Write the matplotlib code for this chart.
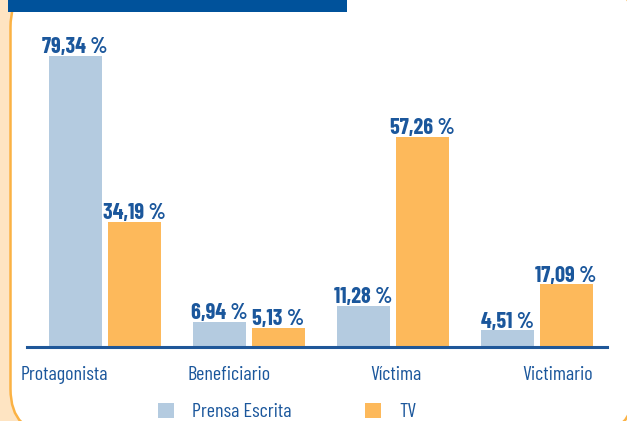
import matplotlib
matplotlib.use("Agg")
import matplotlib.pyplot as plt
import numpy as np
from matplotlib import font_manager
from matplotlib.patches import FancyBboxPatch, Rectangle, Patch

categories = ["Protagonista", "Beneficiario", "Víctima", "Victimario"]
series_names = ["Prensa Escrita", "TV"]
prensa = [79.34, 6.94, 11.28, 4.51]
tv = [34.19, 5.13, 57.26, 17.09]

BLUE_BAR = "#b4cbe0"
ORANGE_BAR = "#fdb95b"
TEXT_BLUE = "#1b579c"
LINE_BLUE = "#1f5799"

available = {f.name for f in font_manager.fontManager.ttflist}
preferred = ["Barlow Condensed", "Roboto Condensed", "Archivo Narrow", "PT Sans Narrow",
             "Encode Sans Condensed", "Liberation Sans Narrow", "DejaVu Sans"]
main_font = next(f for f in preferred if f in available or f == "DejaVu Sans")
FONT = [main_font, "DejaVu Sans"]

W, H = 627, 421
fig = plt.figure(figsize=(W / 100, H / 100), dpi=100)
fig.patch.set_facecolor("white")

def fx(px):
    return px / W

def fy(py):
    return 1 - py / H

# decorative background in pixel coordinates
bg = fig.add_axes([0, 0, 1, 1], zorder=0)
bg.set_xlim(0, W)
bg.set_ylim(H, 0)
bg.axis("off")
bg.add_patch(Rectangle((0, 0), 40, H, facecolor="#fee4c2", edgecolor="none"))
L, R, T, B, rad = 10.5, 634, -18, 434, 45
bg.add_patch(FancyBboxPatch((L, T), R - L, B - T,
                            boxstyle=f"round,pad=0,rounding_size={rad}",
                            facecolor="white", edgecolor="#fbb244", linewidth=1.8))
bg.add_patch(Rectangle((8, 0), 347 - 8, 12, facecolor="#00529b", edgecolor="none"))

# main axes
ax_left, ax_right, ax_bottom, ax_top = 27, 607, 347, 20
ax = fig.add_axes([fx(ax_left), fy(ax_bottom), fx(ax_right - ax_left), fy(ax_top) - fy(ax_bottom)],
                  zorder=3)
ax.set_facecolor("none")

x = np.arange(len(categories))
px_per_unit = 144.0
xmin = -(104.5 - ax_left) / px_per_unit
ax.set_xlim(xmin, xmin + (ax_right - ax_left) / px_per_unit)
ax.set_ylim(0, (ax_bottom - ax_top) / 3.668)

bw = 53 / px_per_unit
off = 29.5 / px_per_unit
b1 = ax.bar(x - off, prensa, bw, color=BLUE_BAR, zorder=2)
b2 = ax.bar(x + off, tv, bw, color=ORANGE_BAR, zorder=2)

for bars, vals in ((b1, prensa), (b2, tv)):
    for rect, v in zip(bars, vals):
        ax.annotate(f"{v:.2f} %".replace(".", ","),
                    (rect.get_x() + rect.get_width() / 2, rect.get_height()),
                    xytext=(0, 2), textcoords="offset points",
                    ha="center", va="baseline", fontsize=16, fontweight="bold",
                    color=TEXT_BLUE, family=FONT)

for s in ["top", "right", "left"]:
    ax.spines[s].set_visible(False)
ax.spines["bottom"].set_color(LINE_BLUE)
ax.spines["bottom"].set_linewidth(2.2)
ax.set_yticks([])
tick_pos = (np.array([64, 229, 396, 558]) - 104.5) / px_per_unit
ax.set_xticks(tick_pos)
ax.set_xticklabels(categories, fontsize=14.5, color=TEXT_BLUE, family=FONT)
ax.tick_params(axis="x", length=0, pad=14)

handles = [Patch(facecolor=BLUE_BAR, edgecolor="none"), Patch(facecolor=ORANGE_BAR, edgecolor="none")]
leg = fig.legend(handles, series_names, loc="center left",
                 bbox_to_anchor=(fx(158), fy(412)), ncol=2, frameon=False,
                 prop={"family": FONT, "size": 14.5}, borderpad=0,
                 handlelength=0.8, handleheight=0.8, handletextpad=0.9,
                 columnspacing=3.65, borderaxespad=0)
for t in leg.get_texts():
    t.set_color(TEXT_BLUE)

fig.savefig("out.png", dpi=100)
